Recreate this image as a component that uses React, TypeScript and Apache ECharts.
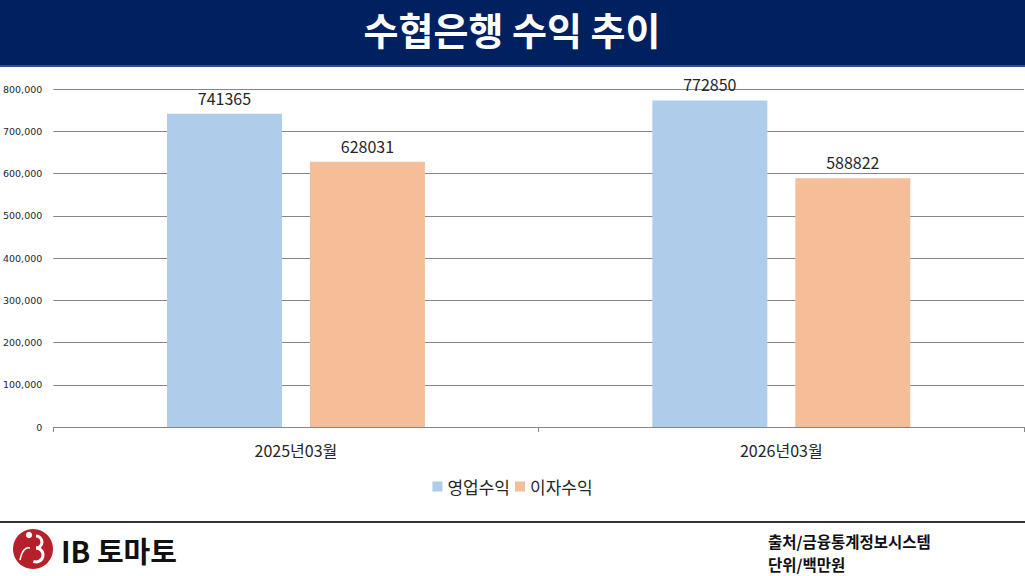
import React, { useEffect, useRef } from 'react';
import * as echarts from 'echarts';
import type { EChartsType } from 'echarts';

const categories = ['2025년03월', '2026년03월'];
const operatingIncome = [741365, 772850];
const interestIncome = [628031, 588822];
const seriesNames = ['영업수익', '이자수익'];

const KR = '"Noto Sans CJK KR", "Noto Sans", sans-serif';

const RevenueTrendChart = () => {
  const chartRef = useRef<HTMLDivElement>(null);

  useEffect(() => {
    let chartInstance: EChartsType | null = null;

    if (chartRef.current) {
      chartInstance = echarts.init(chartRef.current, undefined, { renderer: 'svg' });

      const barLabel = {
        show: true,
        position: 'top' as const,
        distance: 8,
        fontSize: 16,
        fontFamily: KR,
        color: '#262626'
      };

      const option = {
        animation: false,
        backgroundColor: '#ffffff',
        textStyle: { fontFamily: KR },
        grid: { left: 52, right: 1, top: 89, bottom: 149 },
        legend: {
          data: seriesNames,
          top: 473,
          left: 'center',
          icon: 'rect',
          itemWidth: 10,
          itemHeight: 10,
          itemGap: 5,
          textStyle: { fontSize: 17, fontFamily: KR, color: '#262626' }
        },
        xAxis: {
          type: 'category',
          data: categories,
          axisLine: { lineStyle: { color: '#878787', width: 1 } },
          axisTick: { show: true, length: 5, lineStyle: { color: '#878787' } },
          axisLabel: { fontSize: 16, fontFamily: KR, color: '#262626', margin: 15 }
        },
        yAxis: {
          type: 'value',
          min: 0,
          max: 800000,
          interval: 100000,
          axisLine: { show: false },
          axisTick: { show: false },
          splitLine: { lineStyle: { color: '#878787', width: 1 } },
          axisLabel: {
            fontSize: 9.5,
            fontFamily: '"DejaVu Sans", sans-serif',
            color: '#262626',
            margin: 11,
            formatter: (v: number) => v.toLocaleString('en-US')
          }
        },
        series: [
          {
            name: seriesNames[0],
            type: 'bar',
            data: operatingIncome,
            barWidth: 115,
            barGap: '24.3%',
            itemStyle: { color: '#AFCDEA' },
            label: barLabel
          },
          {
            name: seriesNames[1],
            type: 'bar',
            data: interestIncome,
            barWidth: 115,
            barGap: '24.3%',
            itemStyle: { color: '#F5BE98' },
            label: barLabel
          }
        ],
        graphic: [
          // title bar
          { type: 'rect', shape: { x: 0, y: 0, width: 1025, height: 65 }, style: { fill: '#002060' } },
          { type: 'rect', shape: { x: 0, y: 65, width: 1025, height: 2 }, style: { fill: '#2F528F' } },
          {
            type: 'text',
            x: 512,
            y: 28,
            style: {
              text: '수협은행 수익 추이',
              fill: '#ffffff',
              font: `bold 38px ${KR}`,
              align: 'center',
              verticalAlign: 'middle'
            }
          },
          // footer rule
          { type: 'rect', shape: { x: 0, y: 521, width: 1025, height: 2 }, style: { fill: '#333333' } },
          // logo
          { type: 'circle', shape: { cx: 33, cy: 549, r: 20 }, style: { fill: '#B5202A' } },
          { type: 'circle', shape: { cx: 29, cy: 535, r: 3.2 }, style: { fill: '#ffffff' } },
          {
            type: 'arc',
            shape: { cx: 36, cy: 542, r: 6, startAngle: -Math.PI / 2, endAngle: Math.PI / 2 },
            style: { stroke: '#ffffff', lineWidth: 3, fill: 'none' }
          },
          {
            type: 'arc',
            shape: { cx: 36, cy: 555, r: 7, startAngle: -Math.PI / 2, endAngle: Math.PI / 1.6 },
            style: { stroke: '#ffffff', lineWidth: 3, fill: 'none' }
          },
          {
            type: 'bezierCurve',
            shape: { x1: 20, y1: 560, x2: 30, y2: 548, cpx1: 22, cpy1: 550, cpx2: 26, cpy2: 547 },
            style: { stroke: '#ffffff', lineWidth: 1.5, fill: 'none' }
          },
          {
            type: 'text',
            x: 61,
            y: 550,
            style: {
              text: 'IB 토마토',
              fill: '#111111',
              font: `bold 29px ${KR}`,
              verticalAlign: 'middle'
            }
          },
          // source and unit
          {
            type: 'text',
            x: 768,
            y: 541,
            style: {
              text: '출처/금융통계정보시스템',
              fill: '#111111',
              font: `bold 15.5px ${KR}`,
              verticalAlign: 'middle'
            }
          },
          {
            type: 'text',
            x: 768,
            y: 564,
            style: {
              text: '단위/백만원',
              fill: '#111111',
              font: `bold 15.5px ${KR}`,
              verticalAlign: 'middle'
            }
          }
        ]
      };

      chartInstance.setOption(option);
    }

    return () => {
      chartInstance?.dispose();
    };
  }, []);

  return (
    <div
      ref={chartRef}
      style={{ position: 'absolute', left: 0, top: 0, width: '1025px', height: '576px' }}
    ></div>
  );
};

export default function App() {
  return <RevenueTrendChart />;
}
